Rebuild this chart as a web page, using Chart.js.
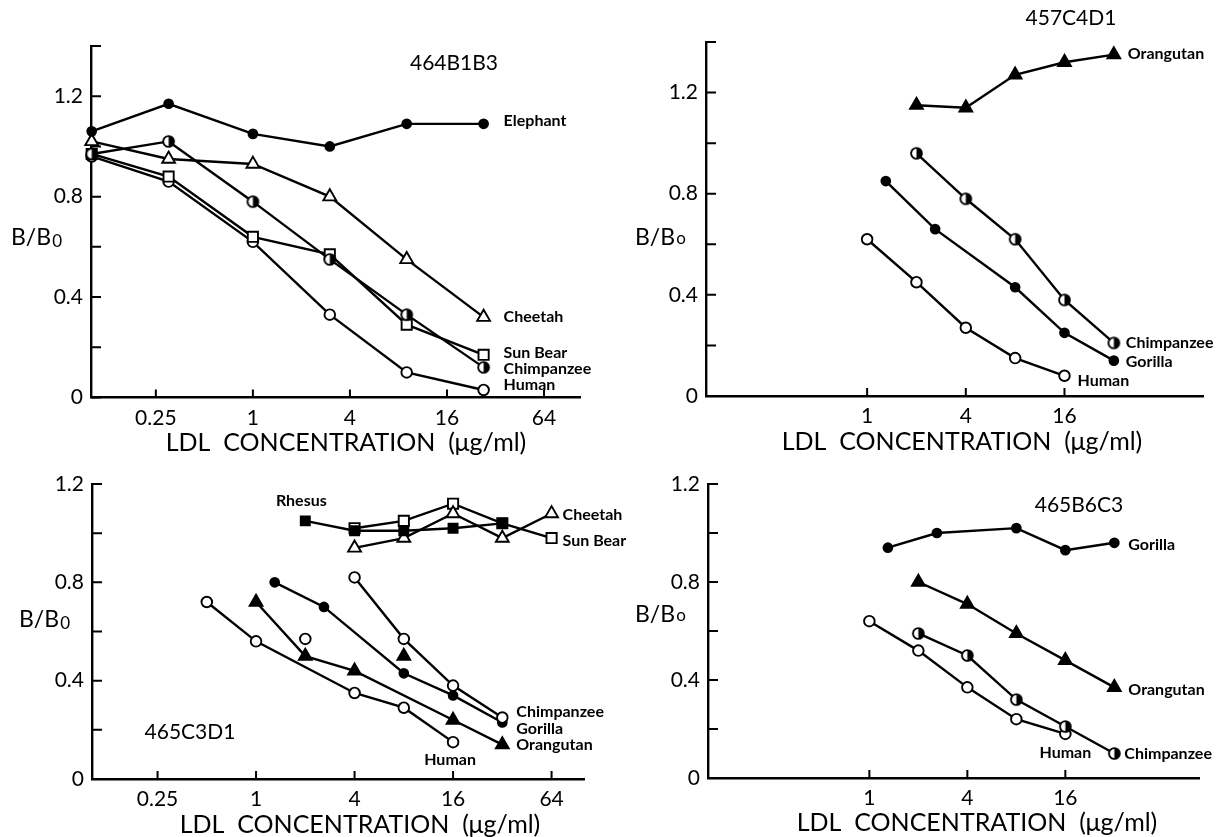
<!DOCTYPE html>
<html>
<head>
<meta charset="utf-8">
<title>LDL binding – monoclonal antibodies</title>
<script src="https://cdn.jsdelivr.net/npm/chart.js@4.4.1/dist/chart.umd.min.js"></script>
<style>
    html, body { margin: 0; padding: 0; background: #fff; }
    #page { position: relative; width: 1218px; height: 837px; overflow: hidden; }
    #page canvas { position: absolute; left: 0; top: 0; pointer-events: none; }
</style>
</head>
<body>
<div id="page">
    <canvas id="p464" width="1218" height="837"></canvas>
    <canvas id="p457" width="1218" height="837"></canvas>
    <canvas id="p465c" width="1218" height="837"></canvas>
    <canvas id="p465b" width="1218" height="837"></canvas>
</div>
<script>
// ── Data: 464B1B3 ───────────────────────────────────────
const concA     = [0.1, 0.3, 1, 3, 9, 27];
const elephantA = [1.06, 1.17, 1.05, 1.00, 1.09, 1.09];
const cheetahA  = [1.02, 0.95, 0.93, 0.80, 0.55, 0.32];
const chimpA    = [0.97, 1.02, 0.78, 0.55, 0.33, 0.12];
const sunBearA  = [0.97, 0.88, 0.64, 0.57, 0.29, 0.17];
const humanA    = [0.96, 0.86, 0.62, 0.33, 0.10, 0.03];

// ── Data: 457C4D1 ───────────────────────────────────────
const concB        = [2, 4, 8, 16, 32];
const orangutanB   = [1.15, 1.14, 1.27, 1.32, 1.35];
const chimpB       = [0.96, 0.78, 0.62, 0.38, 0.21];
const gorillaConcB = [1.3, 2.6, 8, 16, 32];
const gorillaB     = [0.85, 0.66, 0.43, 0.25, 0.14];
const humanConcB   = [1, 2, 4, 8, 16];
const humanB       = [0.62, 0.45, 0.27, 0.15, 0.08];

// ── Data: 465C3D1 ───────────────────────────────────────
const rhesusConcC  = [2, 4, 8, 16, 32];
const rhesusC      = [1.05, 1.01, 1.01, 1.02, 1.04];
const upperConcC   = [4, 8, 16, 32, 64];
const cheetahC     = [0.94, 0.98, 1.08, 0.98, 1.08];
const sunBearC     = [1.02, 1.05, 1.12, 1.04, 0.98];
const chimpConcC   = [4, 8, 16, 32];
const chimpC       = [0.82, 0.57, 0.38, 0.25];
const gorillaConcC = [1.3, 2.6, 8, 16, 32];
const gorillaC     = [0.80, 0.70, 0.43, 0.34, 0.23];
const orangConcC   = [1, 2, 4, 16, 32];
const orangC       = [0.72, 0.50, 0.44, 0.24, 0.14];
const humanConcC   = [0.5, 1, 4, 8, 16];
const humanC       = [0.72, 0.56, 0.35, 0.29, 0.15];
const strayOrangC  = [{ x: 8, y: 0.50 }];
const strayHumanC  = [{ x: 2, y: 0.57 }];

// ── Data: 465B6C3 ───────────────────────────────────────
const gorillaConcD = [1.3, 2.6, 8, 16, 32];
const gorillaD     = [0.94, 1.00, 1.02, 0.93, 0.96];
const concD        = [2, 4, 8, 16, 32];
const orangD       = [0.80, 0.71, 0.59, 0.48, 0.37];
const chimpD       = [0.59, 0.50, 0.32, 0.21, 0.10];
const humanConcD   = [1, 2, 4, 8, 16];
const humanD       = [0.64, 0.52, 0.37, 0.24, 0.18];

// ── Axis ticks ──────────────────────────────────────────
const wideTicks   = [0.25, 1, 4, 16, 64];
const narrowTicks = [1, 4, 16];
const yLabelled   = [0, 0.4, 0.8, 1.2];

// ── Styling ─────────────────────────────────────────────
const FONT = 'Lato, "DejaVu Sans", sans-serif';
const INK = '#000';
const PAGE_W = 1218, PAGE_H = 837;

function halfDot(r) {
    const c = document.createElement('canvas');
    const s = Math.ceil(2 * r + 4);
    c.width = c.height = s;
    const g = c.getContext('2d');
    const m = s / 2;
    g.beginPath(); g.arc(m, m, r, 0, Math.PI * 2); g.fillStyle = '#fff'; g.fill();
    g.beginPath(); g.arc(m, m, r, -Math.PI / 2, Math.PI / 2); g.closePath(); g.fillStyle = INK; g.fill();
    g.beginPath(); g.arc(m, m, r, 0, Math.PI * 2); g.lineWidth = 1.9; g.strokeStyle = INK; g.stroke();
    return c;
}

const MARK = {
    ring:     { pointStyle: 'circle',   pointRadius: 5.3, pointBackgroundColor: '#fff' },
    dot:      { pointStyle: 'circle',   pointRadius: 4.4, pointBackgroundColor: INK },
    half:     { pointStyle: halfDot(5.4), pointRadius: 5 },
    box:      { pointStyle: 'rect',     pointRadius: 7.2, pointBackgroundColor: '#fff' },
    block:    { pointStyle: 'rect',     pointRadius: 6.4, pointBackgroundColor: INK },
    tri:      { pointStyle: 'triangle', pointRadius: 7.4, pointBackgroundColor: '#fff' },
    solidTri: { pointStyle: 'triangle', pointRadius: 7.4, pointBackgroundColor: INK }
};

function series(name, xs, ys, mark) {
    return Object.assign({
        label: name,
        data: xs.map((x, i) => ({ x, y: ys[i] })),
        showLine: true,
        borderColor: INK,
        borderWidth: 2.4,
        pointBorderColor: INK,
        pointBorderWidth: 1.9,
        clip: false
    }, MARK[mark]);
}

function stray(name, pts, mark) {
    return Object.assign(series(name, [], [], mark), {
        data: pts,
        showLine: false
    });
}

// ── Text + inward tick plugin ───────────────────────────
const panelText = {
    id: 'panelText',
    beforeDatasetsDraw(chart) {
        const { ctx, chartArea: a, scales: { x, y } } = chart;
        ctx.save();
        ctx.strokeStyle = INK;
        ctx.lineWidth = 2;
        ctx.beginPath();
        x.ticks.forEach(t => {
            const px = x.getPixelForValue(t.value);
            ctx.moveTo(px, a.bottom); ctx.lineTo(px, a.bottom - 8);
        });
        y.ticks.forEach(t => {
            const py = y.getPixelForValue(t.value);
            ctx.moveTo(a.left, py); ctx.lineTo(a.left + 10, py);
        });
        ctx.stroke();
        ctx.restore();
    },
    afterDraw(chart, args, opts) {
        const { ctx } = chart;
        ctx.save();
        ctx.fillStyle = INK;
        ctx.textBaseline = 'middle';

        // panel name
        ctx.font = `400 21px ${FONT}`;
        ctx.textAlign = 'center';
        ctx.fillText(opts.name.text, opts.name.x, opts.name.y);

        // x-axis title
        ctx.font = `400 25px ${FONT}`;
        ctx.fillText('LDL  CONCENTRATION  (μg/ml)', opts.xTitle.x, opts.xTitle.y);

        // y-axis title, B/B0 with a small zero
        ctx.textAlign = 'left';
        ctx.font = `400 23px ${FONT}`;
        ctx.fillText('B/B', opts.yTitle.x, opts.yTitle.y);
        const w = ctx.measureText('B/B').width;
        ctx.font = `400 17px ${FONT}`;
        ctx.fillText(opts.yTitle.sub, opts.yTitle.x + w + 1, opts.yTitle.y + opts.yTitle.drop);

        // series tags, anchored to a point of their dataset
        ctx.font = `700 16px ${FONT}`;
        opts.tags.forEach(t => {
            const pts = chart.getDatasetMeta(t.ds).data;
            const el = t.at === 'first' ? pts[0] : pts[pts.length - 1];
            ctx.textAlign = t.align || 'left';
            ctx.fillText(t.text, el.x + t.dx, el.y + t.dy);
        });
        ctx.restore();
    }
};

// ── Panel factory ───────────────────────────────────────
function makePanel(id, p) {
    // the y scale fills everything left of the axis, the x scale everything below it
    const fitBox = s => {
        if (s.isHorizontal()) s.height = PAGE_H - p.box.bottom;
        else s.width = p.box.left;
        s.paddingLeft = s.paddingRight = s.paddingTop = s.paddingBottom = 0;
    };
    return new Chart(document.getElementById(id), {
        type: 'scatter',
        data: { datasets: p.datasets },
        options: {
            responsive: false,
            animation: false,
            events: [],
            layout: {
                padding: { left: 0, top: p.box.top, right: PAGE_W - p.box.right, bottom: 0 }
            },
            plugins: {
                legend: { display: false },
                tooltip: { enabled: false },
                panelText: p.text
            },
            scales: {
                x: {
                    type: 'logarithmic',
                    min: p.xMin,
                    max: p.xMax,
                    afterFit: fitBox,
                    afterBuildTicks: s => { s.ticks = p.xTicks.map(v => ({ value: v })); },
                    grid: { display: false, drawTicks: false },
                    border: { display: true, color: INK, width: 2.4 },
                    ticks: {
                        color: INK,
                        font: { family: FONT, size: 21 },
                        padding: 8,
                        autoSkip: false,
                        maxRotation: 0,
                        callback: v => String(v)
                    }
                },
                y: {
                    type: 'linear',
                    min: 0,
                    max: p.yMax,
                    afterFit: fitBox,
                    grid: { display: false, drawTicks: false },
                    border: { display: true, color: INK, width: 2.4 },
                    ticks: {
                        stepSize: 0.2,
                        color: INK,
                        font: { family: FONT, size: 21 },
                        padding: 8,
                        autoSkip: false,
                        callback: v => {
                            const hit = yLabelled.find(l => Math.abs(l - v) < 1e-6);
                            return hit === undefined ? '' : (hit === 0 ? '0' : hit.toFixed(1));
                        }
                    }
                }
            }
        },
        plugins: [panelText]
    });
}

// ── Panels ──────────────────────────────────────────────
makePanel('p464', {
    box: { left: 91, right: 580, top: 46, bottom: 397.5 },
    xMin: 0.099, xMax: 107, yMax: 1.4, xTicks: wideTicks,
    datasets: [
        series('Elephant', concA, elephantA, 'dot'),
        series('Cheetah', concA, cheetahA, 'tri'),
        series('Chimpanzee', concA, chimpA, 'half'),
        series('Sun Bear', concA, sunBearA, 'box'),
        series('Human', concA, humanA, 'ring')
    ],
    text: {
        name: { text: '464B1B3', x: 454, y: 63 },
        xTitle: { x: 346, y: 443 },
        yTitle: { x: 11, y: 238, sub: '0', drop: 4 },
        tags: [
            { ds: 0, text: 'Elephant', dx: 20, dy: -3 },
            { ds: 1, text: 'Cheetah', dx: 20, dy: 0 },
            { ds: 3, text: 'Sun Bear', dx: 20, dy: -2 },
            { ds: 2, text: 'Chimpanzee', dx: 20, dy: 1 },
            { ds: 4, text: 'Human', dx: 20, dy: -5 }
        ]
    }
});

makePanel('p457', {
    box: { left: 706, right: 1203, top: 42, bottom: 396 },
    xMin: 0.104, xMax: 112, yMax: 1.4, xTicks: narrowTicks,
    datasets: [
        series('Orangutan', concB, orangutanB, 'solidTri'),
        series('Chimpanzee', concB, chimpB, 'half'),
        series('Gorilla', gorillaConcB, gorillaB, 'dot'),
        series('Human', humanConcB, humanB, 'ring')
    ],
    text: {
        name: { text: '457C4D1', x: 1071, y: 18 },
        xTitle: { x: 962, y: 442 },
        yTitle: { x: 635, y: 238, sub: 'o', drop: 1 },
        tags: [
            { ds: 0, text: 'Orangutan', dx: 14, dy: -1 },
            { ds: 1, text: 'Chimpanzee', dx: 12, dy: 0 },
            { ds: 2, text: 'Gorilla', dx: 12, dy: 1 },
            { ds: 3, text: 'Human', dx: 13, dy: 5 }
        ]
    }
});

makePanel('p465c', {
    box: { left: 92, right: 584, top: 484, bottom: 779 },
    xMin: 0.0994, xMax: 101, yMax: 1.2, xTicks: wideTicks,
    datasets: [
        series('Rhesus', rhesusConcC, rhesusC, 'block'),
        series('Cheetah', upperConcC, cheetahC, 'tri'),
        series('Sun Bear', upperConcC, sunBearC, 'box'),
        series('Chimpanzee', chimpConcC, chimpC, 'ring'),
        series('Gorilla', gorillaConcC, gorillaC, 'dot'),
        series('Orangutan', orangConcC, orangC, 'solidTri'),
        series('Human', humanConcC, humanC, 'ring'),
        stray('Orangutan (single)', strayOrangC, 'solidTri'),
        stray('Human (single)', strayHumanC, 'ring')
    ],
    text: {
        name: { text: '465C3D1', x: 190, y: 732 },
        xTitle: { x: 360, y: 825 },
        yTitle: { x: 19, y: 620, sub: '0', drop: 4 },
        tags: [
            { ds: 0, at: 'first', text: 'Rhesus', dx: -4, dy: -20, align: 'center' },
            { ds: 1, text: 'Cheetah', dx: 11, dy: 1 },
            { ds: 2, text: 'Sun Bear', dx: 11, dy: 3 },
            { ds: 3, text: 'Chimpanzee', dx: 14, dy: -6 },
            { ds: 4, text: 'Gorilla', dx: 14, dy: 6 },
            { ds: 5, text: 'Orangutan', dx: 14, dy: 0 },
            { ds: 6, text: 'Human', dx: -3, dy: 18, align: 'center' }
        ]
    }
});

makePanel('p465b', {
    box: { left: 708, right: 1199, top: 484, bottom: 778 },
    xMin: 0.102, xMax: 106, yMax: 1.2, xTicks: narrowTicks,
    datasets: [
        series('Gorilla', gorillaConcD, gorillaD, 'dot'),
        series('Orangutan', concD, orangD, 'solidTri'),
        series('Chimpanzee', concD, chimpD, 'half'),
        series('Human', humanConcD, humanD, 'ring')
    ],
    text: {
        name: { text: '465B6C3', x: 1079, y: 505 },
        xTitle: { x: 977, y: 823 },
        yTitle: { x: 635, y: 615, sub: 'o', drop: 1 },
        tags: [
            { ds: 0, text: 'Gorilla', dx: 14, dy: 2 },
            { ds: 1, text: 'Orangutan', dx: 14, dy: 2 },
            { ds: 2, text: 'Chimpanzee', dx: 10, dy: 0 },
            { ds: 3, text: 'Human', dx: 0, dy: 19, align: 'center' }
        ]
    }
});
</script>
</body>
</html>
